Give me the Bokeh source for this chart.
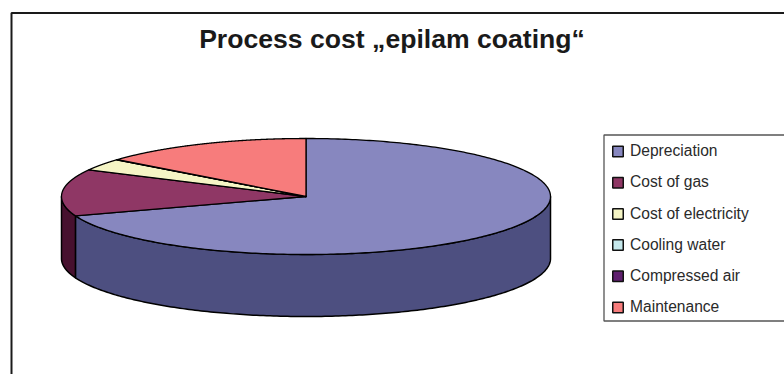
import numpy as np
from bokeh.plotting import figure
from bokeh.models import Range1d
from bokeh.core.properties import value
from bokeh.embed import file_html
from bokeh.resources import INLINE

title = "Process cost \u201eepilam coating\u201c"
categories = ["Depreciation", "Cost of gas", "Cost of electricity", "Cooling water", "Compressed air", "Maintenance"]
shares = [69.6, 13.0, 3.3, 0.05, 0.05, 14.0]
top_colors = ["#8787BF", "#8F3765", "#F5F5C5", "#C5E8EC", "#5F1F6E", "#F77C7C"]
side_colors = ["#4D4F80", "#47112F", "#7B7B62", "#627476", "#300F37", "#7C3E3E"]

CX, CY, RX, RY, DEPTH = 305.5, 196.0, 244.5, 58.0, 62.0

p = figure(width=784, height=374, x_range=Range1d(0, 784), y_range=Range1d(374, 0),
           output_backend="svg", toolbar_location=None, min_border=0,
           x_axis_location=None, y_axis_location=None, outline_line_color=None)
p.grid.visible = False
p.background_fill_color = "white"
p.border_fill_color = "white"

# chart frame (its right and bottom edges lie outside the picture)
p.line([11, 11, 790], [380, 12.5, 12.5], line_color="#1a1a1a", line_width=2)


def ell(theta, dy=0.0):
    return CX + RX * np.sin(theta), CY - RY * np.cos(theta) + dy


edges = np.cumsum([0.0] + shares)
edges = edges / edges[-1] * 2 * np.pi

# side wall: only the front half of the rim is visible
for i in range(len(shares)):
    a, b = max(edges[i], np.pi / 2), min(edges[i + 1], 3 * np.pi / 2)
    if b <= a:
        continue
    t = np.linspace(a, b, 200)
    x0, y0 = ell(t)
    x1, y1 = ell(t[::-1], DEPTH)
    p.patch(np.r_[x0, x1], np.r_[y0, y1], fill_color=side_colors[i],
            line_color="black", line_width=1.5, line_join="round")

# top face
for i in range(len(shares)):
    t = np.linspace(edges[i], edges[i + 1], 300)
    x0, y0 = ell(t)
    p.patch(np.r_[CX, x0], np.r_[CY, y0], fill_color=top_colors[i],
            line_color="black", line_width=1.3, line_join="round")

# title
p.text([391.5], [38], text=[title], text_font=value("Liberation Sans"), text_font_style="bold",
       text_font_size="26.6px", text_align="center", text_baseline="middle", text_color="#1a1a1a")

# legend
LEFT, TOP, BOTTOM = 603.5, 134.5, 320.5
p.line([790, LEFT, LEFT, 790], [TOP, TOP, BOTTOM, BOTTOM], line_color="#555555", line_width=1.3)
row_y = [151 + 31.2 * i for i in range(len(categories))]
p.rect([617.5] * len(categories), row_y, width=10.5, height=10.5, fill_color=top_colors,
       line_color="#111111", line_width=1.5)
p.text([629.5] * len(categories), [y - 0.8 for y in row_y], text=categories, text_font=value("Liberation Sans"),
       text_font_size="15.6px", text_baseline="middle", text_color="#2a2a2a")

open("out.html", "w").write(file_html(p, INLINE))
